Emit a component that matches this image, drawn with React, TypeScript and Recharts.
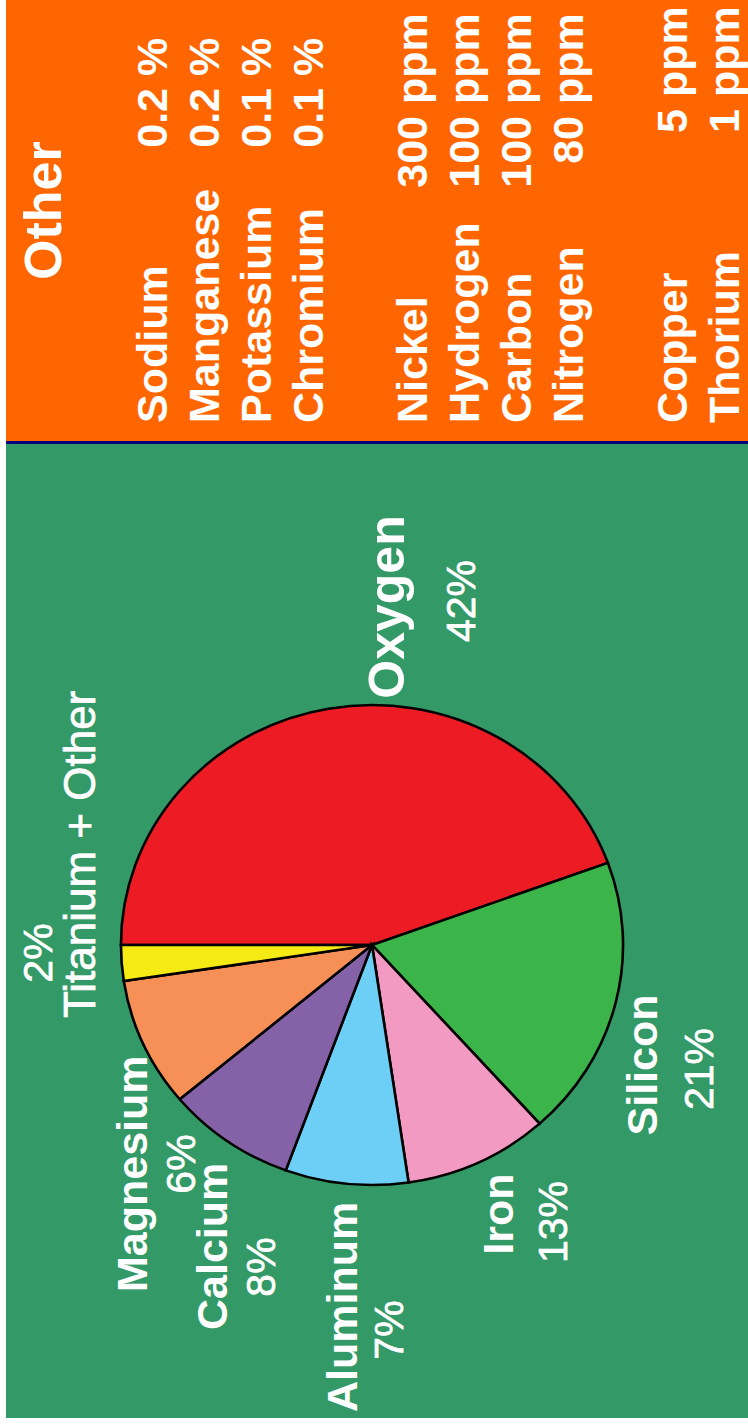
import * as React from 'react';
import { Cell, Pie, PieChart } from 'recharts';

// crust composition (slice sizes as drawn, label text as printed)
const elements = ['Oxygen', 'Silicon', 'Iron', 'Aluminum', 'Calcium', 'Magnesium', 'Titanium + Other'];
const sliceShares = [44.4, 18.9, 9.3, 7.9, 8.3, 8.7, 2.4];
const labelPercents = ['42%', '21%', '13%', '7%', '8%', '6%', '2%'];
const sliceColors = ['#ED1C24', '#3BB44A', '#F29AC1', '#6DCFF5', '#8562A8', '#F79057', '#F5EA14'];

// "Other" panel
const otherNames = ['Sodium', 'Manganese', 'Potassium', 'Chromium', 'Nickel', 'Hydrogen', 'Carbon', 'Nitrogen', 'Copper', 'Thorium'];
const otherAmounts = ['0.2', '0.2', '0.1', '0.1', '300', '100', '100', '80', '5', '1'];
const otherUnits = ['%', '%', '%', '%', 'ppm', 'ppm', 'ppm', 'ppm', 'ppm', 'ppm'];
const otherRows = [0, 1, 2, 3, 5, 6, 7, 8, 10, 11];

// layout of the slide (unrotated frame, 1418 x 742)
const W = 1418;
const H = 742;
const FONT = '"Liberation Sans", Arial, sans-serif';

// name label placement per element: [x, baseline, anchor, size]
const nameLayout: [number, number, 'start' | 'middle' | 'end', number][] = [
  [811, 398, 'middle', 50],
  [353, 651, 'middle', 43],
  [204, 507, 'middle', 43],
  [6, 351, 'start', 43],
  [88, 221, 'start', 43],
  [126, 141, 'start', 43],
  [400, 89, 'start', 44],
];
const pctLayout: [number, number][] = [
  [817, 469],
  [349, 707],
  [196, 561],
  [88, 397],
  [151, 269],
  [254, 189],
  [465, 46],
];
// right edge of the amount column, per row (short numbers sit a bit further right)
const amountEnd = [1330, 1330, 1330, 1330, 1302, 1302, 1302, 1302, 1309, 1309];

const App = () => {
  const pieData = elements.map((name, i) => ({ name, value: sliceShares[i] }));

  return (
    <div
      style={{
        position: 'absolute',
        left: 6,
        top: 0,
        width: H,
        height: W,
        overflow: 'hidden',
      }}
    >
      <div
        style={{
          position: 'absolute',
          left: 0,
          top: 0,
          width: W,
          height: H,
          transformOrigin: '0 0',
          transform: `translate(0px, ${W}px) rotate(-90deg)`,
          background: '#339966',
          fontFamily: FONT,
        }}
      >
        <div style={{ position: 'absolute', left: 977, top: 0, width: W - 977, height: H, background: '#FF6600' }} />
        <div style={{ position: 'absolute', left: 974, top: 0, width: 3, height: H, background: '#00007A' }} />

        <div
          style={{
            position: 'absolute',
            left: 223,
            top: 116,
            width: 500,
            height: 500,
            transform: 'scaleY(1.046)',
            transformOrigin: '50% 50%',
          }}
        >
          <PieChart width={500} height={500} margin={{ top: 0, right: 0, bottom: 0, left: 0 }}>
            <Pie
              data={pieData}
              dataKey="value"
              nameKey="name"
              cx={250}
              cy={250}
              outerRadius={240}
              startAngle={90}
              endAngle={-270}
              stroke="#000"
              strokeWidth={2.5}
              isAnimationActive={false}
              label={false}
              labelLine={false}
            >
              {pieData.map((d, i) => (
                <Cell key={d.name} fill={sliceColors[i]} />
              ))}
            </Pie>
          </PieChart>
        </div>

        <svg
          width={W}
          height={H}
          style={{ position: 'absolute', left: 0, top: 0, pointerEvents: 'none' }}
        >
          {elements.map((name, i) => (
            <g key={name} fill="#fff">
              <text
                x={nameLayout[i][0]}
                y={nameLayout[i][1]}
                textAnchor={nameLayout[i][2]}
                fontSize={nameLayout[i][3]}
                fontWeight={i === 6 ? 400 : 700}
                stroke={i === 6 ? '#fff' : 'none'}
                strokeWidth={0.7}
              >
                {name}
              </text>
              <text
                x={pctLayout[i][0]}
                y={pctLayout[i][1]}
                textAnchor="middle"
                fontSize={41}
                stroke="#fff"
                strokeWidth={0.7}
              >
                {labelPercents[i]}
              </text>
            </g>
          ))}

          <text x={1138} y={55} fontSize={52} fontWeight={700} fill="#fff">
            Other
          </text>
          {otherNames.map((name, i) => {
            const y = 161 + otherRows[i] * 52;
            const end = amountEnd[i];
            return (
              <g key={name} fill="#fff" fontSize={43} fontWeight={700}>
                <text x={995} y={y}>{name}</text>
                <text x={end} y={y} textAnchor="end">
                  {otherAmounts[i]}
                </text>
                <text x={end + 12} y={y}>{otherUnits[i]}</text>
              </g>
            );
          })}
        </svg>
      </div>
    </div>
  );
};

export default App;
